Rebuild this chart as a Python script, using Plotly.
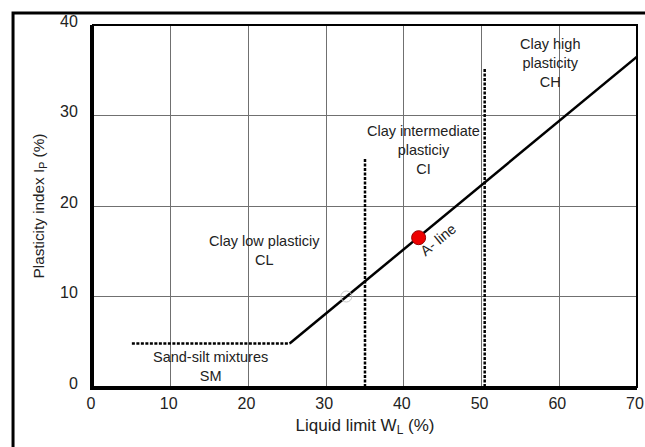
import plotly.graph_objects as go

# Data
aline_x = [25.3, 70.0]
aline_y = [4.8, 36.5]
sm_x = [5.0, 25.3]
sm_y = [4.8, 4.8]
cl_ci_x = [35.0, 35.0]
cl_ci_y = [0.0, 25.3]
ci_ch_x = [50.4, 50.4]
ci_ch_y = [0.0, 35.2]
sample_x = [41.9]
sample_y = [16.5]
faint_x = [32.6]
faint_y = [10.0]

x_ticks = [0, 10, 20, 30, 40, 50, 60, 70]
y_ticks = [0, 10, 20, 30, 40]

zone_labels = ["Clay high<br>plasticity<br>CH",
               "Clay intermediate<br>plasticiy<br>CI",
               "Clay low plasticiy<br>CL",
               "Sand-silt mixtures<br>SM"]
zone_x = [58.8, 42.5, 22.1, 15.1]
zone_y = [35.8, 26.2, 15.1, 2.3]

FONT = "Liberation Sans, Arial, sans-serif"
TXT = "#222"

fig = go.Figure()
dash_style = dict(color="black", width=2.5, dash="3px,1.5px")
fig.add_trace(go.Scatter(x=sm_x, y=sm_y, mode="lines", line=dash_style, hoverinfo="skip"))
fig.add_trace(go.Scatter(x=cl_ci_x, y=cl_ci_y, mode="lines", line=dash_style, hoverinfo="skip"))
fig.add_trace(go.Scatter(x=ci_ch_x, y=ci_ch_y, mode="lines", line=dash_style, hoverinfo="skip"))
fig.add_trace(go.Scatter(x=aline_x, y=aline_y, mode="lines",
                         line=dict(color="black", width=2.5), hoverinfo="skip"))
fig.add_trace(go.Scatter(x=faint_x, y=faint_y, mode="markers",
                         marker=dict(size=11, color="rgba(0,0,0,0)",
                                     line=dict(color="#c8c8c8", width=1)), hoverinfo="skip"))
fig.add_trace(go.Scatter(x=sample_x, y=sample_y, mode="markers",
                         marker=dict(size=14, color="#ee0000",
                                     line=dict(color="#990000", width=1)), hoverinfo="skip"))

for t, xx, yy in zip(zone_labels, zone_x, zone_y):
    fig.add_annotation(x=xx, y=yy, text=t, showarrow=False,
                       font=dict(family=FONT, size=14.5, color=TXT), align="center")

fig.add_annotation(x=44.4, y=16.2, text="A- line", showarrow=False, textangle=-39.5,
                   font=dict(family=FONT, size=14.5, color=TXT))

# plot frame
fig.add_shape(type="rect", xref="paper", yref="paper", x0=0, y0=0, x1=1, y1=1,
              line=dict(color="black", width=2))
# outer figure border (extends beyond right/bottom edge)
fig.add_shape(type="rect", xref="paper", yref="paper", x0=-0.147, y0=-0.4, x1=1.2, y1=1.033,
              line=dict(color="black", width=3))

fig.update_layout(
    width=645, height=447,
    margin=dict(l=93, r=8, t=25, b=60),
    paper_bgcolor="white", plot_bgcolor="white",
    showlegend=False,
    font=dict(family=FONT, color=TXT),
    xaxis=dict(range=[0, 70], tickvals=x_ticks, ticktext=[str(v) for v in x_ticks],
               automargin=False,
               showgrid=True, gridcolor="#707070", gridwidth=1,
               showline=True, linecolor="black", linewidth=3, zeroline=False,
               ticks="", tickfont=dict(size=16, family=FONT, color=TXT),
               ticklabeloverflow="allow", ticklabelshift=-2,
               title=dict(text="Liquid limit W<sub>L</sub> (%)", font=dict(size=17, family=FONT, color=TXT),
                          standoff=8)),
    yaxis=dict(range=[0, 40], tickvals=y_ticks, ticktext=[str(v) for v in y_ticks],
               automargin=False,
               showgrid=True, gridcolor="#707070", gridwidth=1,
               showline=True, linecolor="black", linewidth=3, zeroline=False,
               ticks="outside", ticklen=9, tickcolor="rgba(0,0,0,0)",
               ticklabelshift=-4, ticklabeloverflow="allow",
               tickfont=dict(size=16, family=FONT, color=TXT),
               title=dict(text="Plasticity index I<sub>P</sub> (%)", font=dict(size=15.3, family=FONT, color=TXT),
                          standoff=12)),
)

fig.write_html("out.html")
